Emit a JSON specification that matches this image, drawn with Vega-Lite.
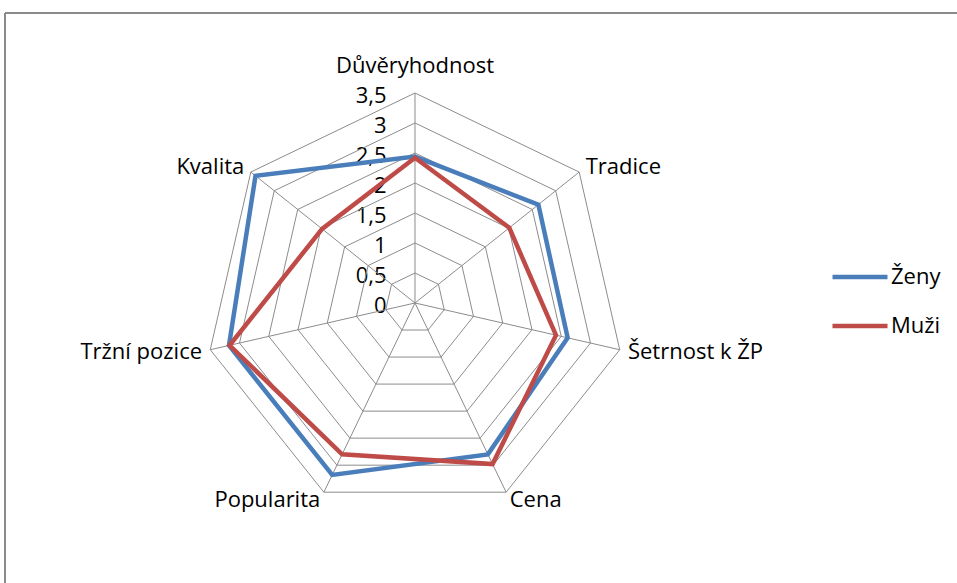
{
  "$schema": "https://vega.github.io/schema/vega-lite/v6.json",
  "width": 952,
  "height": 570,
  "autosize": {"type": "none"},
  "padding": {"left": 5, "top": 13, "right": 0, "bottom": 0},
  "background": "white",
  "config": {
    "view": {"stroke": null},
    "font": "Open Sans",
    "text": {"font": "Open Sans"}
  },
  "datasets": {
    "hodnoceni": [
      {"kriterium": "Důvěryhodnost", "poradi": 0, "pohlavi": "Ženy", "hodnota": 2.44},
      {"kriterium": "Tradice", "poradi": 1, "pohlavi": "Ženy", "hodnota": 2.63},
      {"kriterium": "Šetrnost k ŽP", "poradi": 2, "pohlavi": "Ženy", "hodnota": 2.61},
      {"kriterium": "Cena", "poradi": 3, "pohlavi": "Ženy", "hodnota": 2.8},
      {"kriterium": "Popularita", "poradi": 4, "pohlavi": "Ženy", "hodnota": 3.18},
      {"kriterium": "Tržní pozice", "poradi": 5, "pohlavi": "Ženy", "hodnota": 3.18},
      {"kriterium": "Kvalita", "poradi": 6, "pohlavi": "Ženy", "hodnota": 3.4},
      {"kriterium": "Důvěryhodnost", "poradi": 0, "pohlavi": "Muži", "hodnota": 2.42},
      {"kriterium": "Tradice", "poradi": 1, "pohlavi": "Muži", "hodnota": 2.01},
      {"kriterium": "Šetrnost k ŽP", "poradi": 2, "pohlavi": "Muži", "hodnota": 2.41},
      {"kriterium": "Cena", "poradi": 3, "pohlavi": "Muži", "hodnota": 2.98},
      {"kriterium": "Popularita", "poradi": 4, "pohlavi": "Muži", "hodnota": 2.8},
      {"kriterium": "Tržní pozice", "poradi": 5, "pohlavi": "Muži", "hodnota": 3.17},
      {"kriterium": "Kvalita", "poradi": 6, "pohlavi": "Muži", "hodnota": 1.98}
    ],
    "mrizka": [
      {"uroven": 0.5, "paprsek": [0, 1, 2, 3, 4, 5, 6]},
      {"uroven": 1, "paprsek": [0, 1, 2, 3, 4, 5, 6]},
      {"uroven": 1.5, "paprsek": [0, 1, 2, 3, 4, 5, 6]},
      {"uroven": 2, "paprsek": [0, 1, 2, 3, 4, 5, 6]},
      {"uroven": 2.5, "paprsek": [0, 1, 2, 3, 4, 5, 6]},
      {"uroven": 3, "paprsek": [0, 1, 2, 3, 4, 5, 6]},
      {"uroven": 3.5, "paprsek": [0, 1, 2, 3, 4, 5, 6]}
    ]
  },
  "layer": [
    {
      "description": "chart frame: top and left edges",
      "data": {"values": [{}]},
      "mark": {"type": "rule", "color": "#8a8a8a", "strokeWidth": 2},
      "encoding": {
        "y": {"datum": 4.8333, "type": "quantitative",
              "scale": {"domain": [-4.6667, 4.8333], "nice": false, "zero": false},
              "axis": {"orient": "left", "offset": -410, "values": [0, 0.5, 1, 1.5, 2, 2.5, 3, 3.5], "domain": false, "ticks": false, "tickSize": 0, "grid": false, "title": null, "labelPadding": 29, "labelFont": "Open Sans", "labelFontSize": 22, "labelColor": "#000000", "labelExpr": "replace(format(datum.value, '~g'), '.', ',')", "labelBaseline": "middle", "labelOffset": 3, "labelOverlap": false, "labelBound": false, "labelFlush": false}}
      }
    },
    {
      "data": {"values": [{}]},
      "mark": {"type": "rule", "color": "#8a8a8a", "strokeWidth": 2},
      "encoding": {
        "x": {"datum": -6.8333, "type": "quantitative",
              "scale": {"domain": [-6.8333, 9.0333], "nice": false, "zero": false}, "axis": null}
      }
    },
    {
      "description": "concentric rings at every 0.5",
      "data": {"name": "mrizka"},
      "transform": [
        {"flatten": ["paprsek"]},
        {"calculate": "datum.paprsek * 2 * PI / 7", "as": "uhel"},
        {"calculate": "datum.uroven * sin(datum.uhel)", "as": "gx"},
        {"calculate": "datum.uroven * cos(datum.uhel)", "as": "gy"}
      ],
      "mark": {"type": "line", "interpolate": "linear-closed", "color": "#8c8c8c", "strokeWidth": 1},
      "encoding": {
        "x": {"field": "gx", "type": "quantitative",
              "scale": {"domain": [-6.8333, 9.0333], "nice": false, "zero": false}, "axis": null},
        "y": {"field": "gy", "type": "quantitative",
              "scale": {"domain": [-4.6667, 4.8333], "nice": false, "zero": false},
              "axis": {"orient": "left", "offset": -410, "values": [0, 0.5, 1, 1.5, 2, 2.5, 3, 3.5], "domain": false, "ticks": false, "tickSize": 0, "grid": false, "title": null, "labelPadding": 29, "labelFont": "Open Sans", "labelFontSize": 22, "labelColor": "#000000", "labelExpr": "replace(format(datum.value, '~g'), '.', ',')", "labelBaseline": "middle", "labelOffset": 3, "labelOverlap": false, "labelBound": false, "labelFlush": false}},
        "detail": {"field": "uroven", "type": "quantitative"},
        "order": {"field": "paprsek", "type": "quantitative"}
      }
    },
    {
      "description": "spokes from the centre to the outer ring",
      "data": {"name": "hodnoceni"},
      "transform": [
        {"filter": "datum.pohlavi === 'Ženy'"},
        {"calculate": "datum.poradi * 2 * PI / 7", "as": "uhel"},
        {"calculate": "3.5 * sin(datum.uhel)", "as": "sx"},
        {"calculate": "3.5 * cos(datum.uhel)", "as": "sy"}
      ],
      "mark": {"type": "rule", "color": "#8c8c8c", "strokeWidth": 1},
      "encoding": {
        "x": {"field": "sx", "type": "quantitative",
              "scale": {"domain": [-6.8333, 9.0333], "nice": false, "zero": false}, "axis": null},
        "y": {"field": "sy", "type": "quantitative",
              "scale": {"domain": [-4.6667, 4.8333], "nice": false, "zero": false},
              "axis": {"orient": "left", "offset": -410, "values": [0, 0.5, 1, 1.5, 2, 2.5, 3, 3.5], "domain": false, "ticks": false, "tickSize": 0, "grid": false, "title": null, "labelPadding": 29, "labelFont": "Open Sans", "labelFontSize": 22, "labelColor": "#000000", "labelExpr": "replace(format(datum.value, '~g'), '.', ',')", "labelBaseline": "middle", "labelOffset": 3, "labelOverlap": false, "labelBound": false, "labelFlush": false}},
        "x2": {"datum": 0},
        "y2": {"datum": 0}
      }
    },
    {
      "description": "criterion names outside the outer ring",
      "data": {"name": "hodnoceni"},
      "transform": [
        {"filter": "datum.pohlavi === 'Ženy'"},
        {"calculate": "datum.poradi * 2 * PI / 7", "as": "uhel"},
        {"calculate": "datum.poradi === 0 ? 3.95 : 3.64", "as": "lr"},
        {"calculate": "datum.lr * sin(datum.uhel)", "as": "lx"},
        {"calculate": "datum.lr * cos(datum.uhel)", "as": "ly"},
        {"calculate": "sin(datum.uhel) > 0.1 ? 'left' : (sin(datum.uhel) < -0.1 ? 'right' : 'center')", "as": "zarovnani"}
      ],
      "mark": {"type": "text", "font": "Open Sans", "fontSize": 22, "color": "#000000", "baseline": "middle",
               "align": {"expr": "datum.zarovnani"}},
      "encoding": {
        "x": {"field": "lx", "type": "quantitative",
              "scale": {"domain": [-6.8333, 9.0333], "nice": false, "zero": false}, "axis": null},
        "y": {"field": "ly", "type": "quantitative",
              "scale": {"domain": [-4.6667, 4.8333], "nice": false, "zero": false},
              "axis": {"orient": "left", "offset": -410, "values": [0, 0.5, 1, 1.5, 2, 2.5, 3, 3.5], "domain": false, "ticks": false, "tickSize": 0, "grid": false, "title": null, "labelPadding": 29, "labelFont": "Open Sans", "labelFontSize": 22, "labelColor": "#000000", "labelExpr": "replace(format(datum.value, '~g'), '.', ',')", "labelBaseline": "middle", "labelOffset": 3, "labelOverlap": false, "labelBound": false, "labelFlush": false}},
        "text": {"field": "kriterium", "type": "nominal"}
      }
    },
    {
      "description": "one closed polygon per group",
      "data": {"name": "hodnoceni"},
      "transform": [
        {"calculate": "datum.poradi * 2 * PI / 7", "as": "uhel"},
        {"calculate": "datum.hodnota * sin(datum.uhel)", "as": "px"},
        {"calculate": "datum.hodnota * cos(datum.uhel)", "as": "py"}
      ],
      "mark": {"type": "line", "interpolate": "linear-closed", "strokeWidth": 4.5},
      "encoding": {
        "x": {"field": "px", "type": "quantitative",
              "scale": {"domain": [-6.8333, 9.0333], "nice": false, "zero": false}, "axis": null},
        "y": {"field": "py", "type": "quantitative",
              "scale": {"domain": [-4.6667, 4.8333], "nice": false, "zero": false},
              "axis": {"orient": "left", "offset": -410, "values": [0, 0.5, 1, 1.5, 2, 2.5, 3, 3.5], "domain": false, "ticks": false, "tickSize": 0, "grid": false, "title": null, "labelPadding": 29, "labelFont": "Open Sans", "labelFontSize": 22, "labelColor": "#000000", "labelExpr": "replace(format(datum.value, '~g'), '.', ',')", "labelBaseline": "middle", "labelOffset": 3, "labelOverlap": false, "labelBound": false, "labelFlush": false}},
        "order": {"field": "poradi", "type": "quantitative"},
        "color": {
          "field": "pohlavi", "type": "nominal",
          "scale": {"domain": ["Ženy", "Muži"], "range": ["#4a7ebb", "#be4b48"]},
          "legend": {
            "title": null, "orient": "none", "legendX": 825, "legendY": 234,
            "symbolType": "stroke", "symbolSize": 3025, "symbolStrokeWidth": 4.5,
            "labelFont": "Open Sans", "labelFontSize": 22, "labelColor": "#000000",
            "labelOffset": 1, "rowPadding": 8, "padding": 0
          }
        }
      }
    }
  ]
}
